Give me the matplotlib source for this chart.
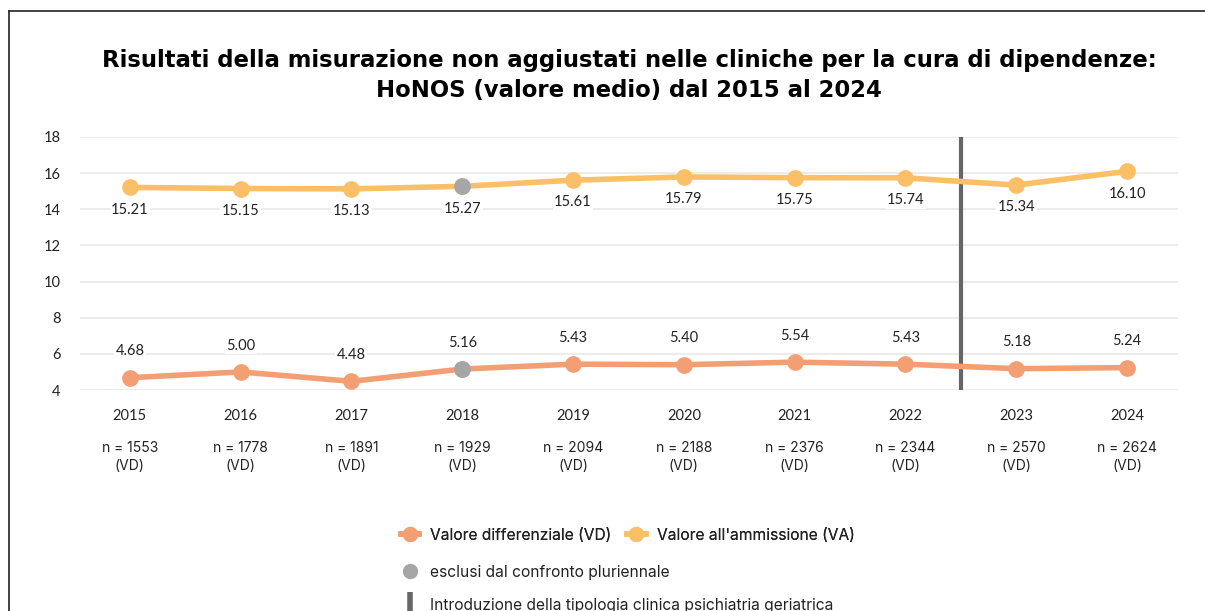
import matplotlib.pyplot as plt
from matplotlib.lines import Line2D

years = ['2015', '2016', '2017', '2018', '2019', '2020', '2021', '2022', '2023', '2024']
va_values = [15.21, 15.15, 15.13, 15.27, 15.61, 15.79, 15.75, 15.74, 15.34, 16.10]
vd_values = [4.68, 5.00, 4.48, 5.16, 5.43, 5.40, 5.54, 5.43, 5.18, 5.24]
n_values = [1553, 1778, 1891, 1929, 2094, 2188, 2376, 2344, 2570, 2624]
excluded_idx = [3]
break_pos = 7.5

c_va = '#FBBF68'
c_vd = '#F49E73'
c_excl = '#A6A6A6'
c_break = '#666666'

fig = plt.figure(figsize=(12.05, 6.11), dpi=100)
ax = fig.add_axes([80 / 1205, 1 - 390 / 611, (1178 - 80) / 1205, (390 - 137) / 611])

x = list(range(len(years)))
ax.plot(x, va_values, color=c_va, lw=4, marker='o', ms=11, zorder=3, solid_capstyle='round')
ax.plot(x, vd_values, color=c_vd, lw=4, marker='o', ms=11, zorder=3, solid_capstyle='round')
ax.plot([x[i] for i in excluded_idx], [va_values[i] for i in excluded_idx], 'o', color=c_excl, ms=11, zorder=4)
ax.plot([x[i] for i in excluded_idx], [vd_values[i] for i in excluded_idx], 'o', color=c_excl, ms=11, zorder=4)
ax.axvline(break_pos, color=c_break, lw=3, zorder=2)

lab_font = 'Lato'
for i in x:
    ax.annotate(f'{va_values[i]:.2f}', (i, va_values[i]), xytext=(0, -16), textcoords='offset points',
                ha='center', va='center', fontsize=10.5, family=lab_font, color='#222222',
                bbox=dict(boxstyle='square,pad=0.1', fc='white', ec='none'), zorder=5)
    ax.annotate(f'{vd_values[i]:.2f}', (i, vd_values[i]), xytext=(0, 19), textcoords='offset points',
                ha='center', va='center', fontsize=10.5, family=lab_font, color='#222222',
                bbox=dict(boxstyle='square,pad=0.1', fc='white', ec='none'), zorder=5)
    ax.text(i, -0.265, f'n = {n_values[i]}\n(VD)', transform=ax.get_xaxis_transform(),
            ha='center', va='center', fontsize=10, family='Inter', color='#222222', linespacing=1.3)

ax.set_xlim(-0.45, 9.46)
ax.set_ylim(4, 18)
ax.set_yticks(range(4, 19, 2))
ax.set_xticks(x)
ax.set_xticklabels(years)
ax.tick_params(length=0, labelsize=10.5, colors='#222222', pad=14)
for t in ax.get_xticklabels() + ax.get_yticklabels():
    t.set_family(lab_font)
ax.grid(axis='y', color='#EBEBEB', lw=1.3)
ax.set_axisbelow(True)
for s in ax.spines.values():
    s.set_visible(False)

fig.text(0.522, 1 - 60 / 611, 'Risultati della misurazione non aggiustati nelle cliniche per la cura di dipendenze:',
         ha='center', va='center', fontsize=16.4, fontweight='bold', family='DejaVu Sans')
fig.text(0.522, 1 - 90 / 611, 'HoNOS (valore medio) dal 2015 al 2024',
         ha='center', va='center', fontsize=16.4, fontweight='bold', family='DejaVu Sans')

# legend
h_vd = Line2D([], [], color=c_vd, lw=4, marker='o', ms=10)
h_va = Line2D([], [], color=c_va, lw=4, marker='o', ms=10)
h_ex = Line2D([], [], color=c_excl, lw=0, marker='o', ms=10)
h_br = Line2D([], [], color=c_break, lw=0, marker='|', ms=18, mew=4)
leg_prop = {'family': 'Inter', 'size': 11.2}
leg1 = fig.legend([h_vd, h_va], ['Valore differenziale (VD)', "Valore all'ammissione (VA)"],
                  loc='center left', bbox_to_anchor=(393 / 1205, 1 - 535 / 611), ncol=2, frameon=False,
                  handlelength=1.2, handletextpad=0.7, columnspacing=1.0, borderpad=0,
                  prop=leg_prop, labelcolor='#222222')
leg2 = fig.legend([h_ex, h_br], ['esclusi dal confronto pluriennale',
                                 'Introduzione della tipologia clinica psichiatria geriatrica'],
                  loc='upper left', bbox_to_anchor=(393 / 1205, 1 - 557 / 611), frameon=False,
                  handlelength=1.2, handletextpad=0.7, labelspacing=1.15, borderpad=0,
                  prop=leg_prop, labelcolor='#222222')
fig.add_artist(leg1)

# outer frame
fig.add_artist(Line2D([9 / 1205, 9 / 1205], [0, 1 - 11 / 611], color='#222222', lw=1.2))
fig.add_artist(Line2D([9 / 1205, 1], [1 - 11 / 611, 1 - 11 / 611], color='#222222', lw=1.2))

fig.savefig('out.png', dpi=100)
